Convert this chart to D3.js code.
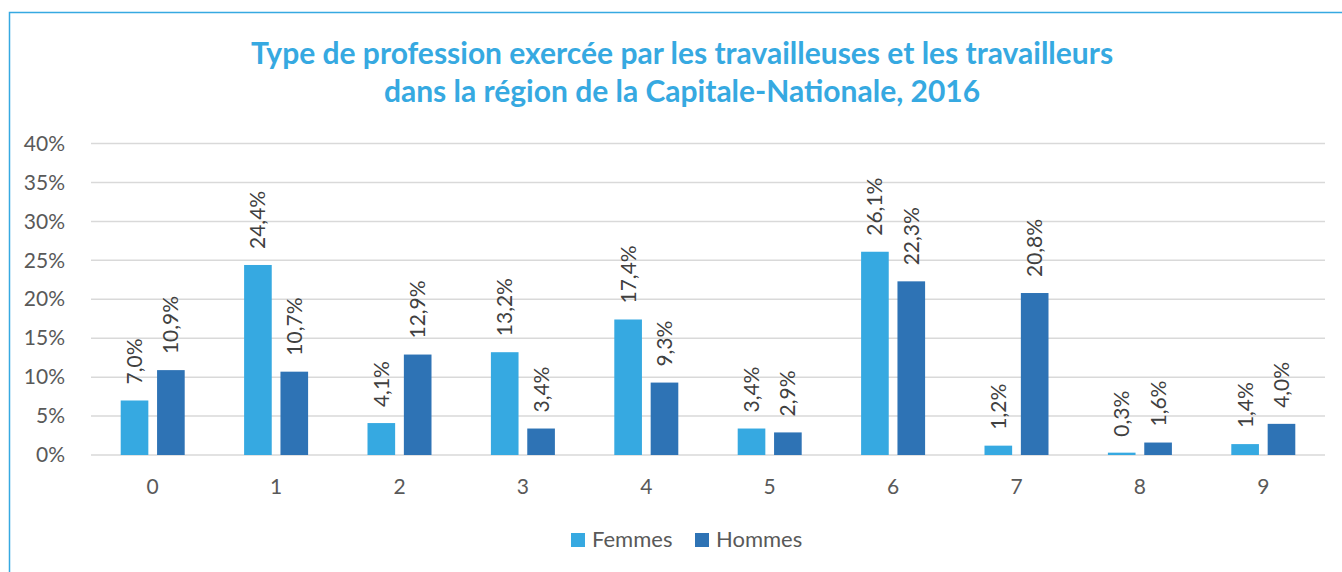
<!doctype html>
<html>
  <head>
    <meta charset="utf-8"/>
    <style>
      body { margin: 0; background: #fff; }
      text { font-family: Lato, "Open Sans", sans-serif; }
    </style>
  </head>
  <body>
    <script src="https://cdn.jsdelivr.net/npm/d3@7"></script>
    <script>

      const categories = ['0', '1', '2', '3', '4', '5', '6', '7', '8', '9'];
      const femmes = [7.0, 24.4, 4.1, 13.2, 17.4, 3.4, 26.1, 1.2, 0.3, 1.4];
      const hommes = [10.9, 10.7, 12.9, 3.4, 9.3, 2.9, 22.3, 20.8, 1.6, 4.0];
      const yTicks = [0, 5, 10, 15, 20, 25, 30, 35, 40];
      const seriesNames = ['Femmes', 'Hommes'];
      const colors = ['#36A9E1', '#2E73B5'];
      const titleLines = [
        'Type de profession exercée par les travailleuses et les travailleurs',
        'dans la région de la Capitale-Nationale, 2016'
      ];

      const width = 1342, height = 572;
      const plotLeft = 91, plotRight = 1325, plotTop = 143.5, plotBottom = 455;

      const fr = d3.formatLocale({ decimal: ',', thousands: ' ', grouping: [3], currency: ['', ' $'] });
      const fmt = fr.format('.1f');

      const svg = d3.select('body').append('svg')
            .attr('width', width)
            .attr('height', height);

      // chart frame (only left and top edges visible)
      svg.append('rect')
        .attr('x', 9.5)
        .attr('y', 12.5)
        .attr('width', width + 20)
        .attr('height', height + 20)
        .attr('fill', 'none')
        .attr('stroke', '#36A9E1')
        .attr('stroke-width', 1.5);

      const title = svg.append('text')
            .attr('text-anchor', 'middle')
            .attr('fill', '#36A9E1')
            .style('font-weight', 'bold')
            .style('font-size', '30px');
      title.selectAll('tspan')
        .data(titleLines)
        .join('tspan')
        .attr('x', 682)
        .attr('y', (d, i) => 64 + i * 38)
        .text(d => d);

      const x = d3.scaleBand()
            .domain(categories)
            .range([plotLeft, plotRight]);

      const xInner = d3.scaleBand()
            .domain(seriesNames)
            .range([x.bandwidth() / 2 - 32, x.bandwidth() / 2 + 32])
            .paddingInner(0.24);

      const y = d3.scaleLinear()
            .domain([0, 40])
            .range([plotBottom, plotTop]);

      // gridlines
      svg.append('g')
        .selectAll('line')
        .data(yTicks)
        .join('line')
        .attr('x1', plotLeft)
        .attr('x2', plotRight)
        .attr('y1', d => y(d))
        .attr('y2', d => y(d))
        .attr('stroke', '#D9D9D9')
        .attr('stroke-width', 1.5);

      // y axis labels
      const yAxis = svg.append('g')
            .attr('transform', 'translate(' + (plotLeft - 23) + ',0)')
            .call(d3.axisLeft(y).tickValues(yTicks).tickSize(0).tickFormat(d => d + '%'));
      yAxis.select('.domain').remove();
      yAxis.selectAll('text')
        .attr('fill', '#595959')
        .style('font-size', '21px')
        .style('font-family', 'Lato, sans-serif');

      // x axis labels
      const xAxis = svg.append('g')
            .attr('transform', 'translate(0,' + (plotBottom + 21) + ')')
            .call(d3.axisBottom(x).tickSize(0));
      xAxis.select('.domain').remove();
      xAxis.selectAll('text')
        .attr('fill', '#595959')
        .style('font-size', '21px')
        .style('font-family', 'Lato, sans-serif');

      const rows = categories.map((c, i) => ({
        cat: c,
        values: [
          { name: 'Femmes', value: femmes[i], color: colors[0] },
          { name: 'Hommes', value: hommes[i], color: colors[1] }
        ]
      }));

      const group = svg.append('g')
            .selectAll('g')
            .data(rows)
            .join('g')
            .attr('transform', d => 'translate(' + x(d.cat) + ',0)');

      group.selectAll('rect')
        .data(d => d.values)
        .join('rect')
        .attr('x', d => xInner(d.name))
        .attr('width', xInner.bandwidth())
        .attr('y', d => y(d.value))
        .attr('height', d => plotBottom - y(d.value))
        .attr('fill', d => d.color);

      group.selectAll('text.label')
        .data(d => d.values)
        .join('text')
        .attr('class', 'label')
        .attr('transform', d => 'translate(' + (xInner(d.name) + xInner.bandwidth() / 2 + 7.5) + ',' + (y(d.value) - 16) + ') rotate(-90)')
        .attr('fill', '#404040')
        .style('font-size', '21px')
        .text(d => fmt(d.value) + '%');

      // legend
      const legend = svg.append('g')
            .selectAll('g')
            .data(seriesNames)
            .join('g')
            .attr('transform', (d, i) => 'translate(' + (571 + i * 124) + ',533)');
      legend.append('rect')
        .attr('width', 14)
        .attr('height', 14)
        .attr('fill', (d, i) => colors[i]);
      legend.append('text')
        .attr('x', 21)
        .attr('y', 14)
        .attr('fill', '#595959')
        .style('font-size', '22px')
        .text(d => d);

    </script>
  </body>
</html>
